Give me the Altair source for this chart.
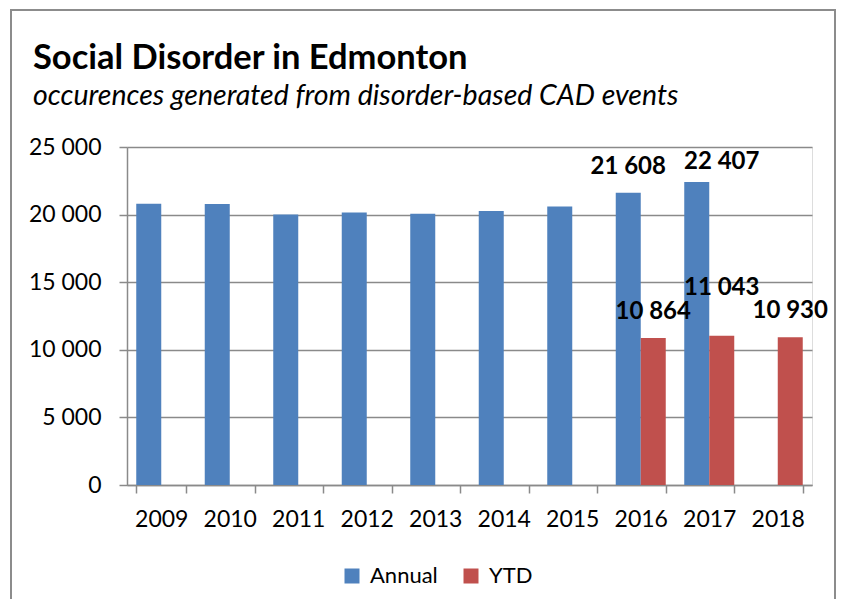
import altair as alt
import pandas as pd

years = ["2009", "2010", "2011", "2012", "2013", "2014", "2015", "2016", "2017", "2018"]
annual = [20810, 20790, 20000, 20150, 20070, 20270, 20590, 21608, 22407, None]
ytd = [None, None, None, None, None, None, None, 10864, 11043, 10930]
series = ["Annual", "YTD"]
colors = ["#4F81BD", "#C0504D"]
y_ticks = [0, 5000, 10000, 15000, 20000, 25000]
label_years = ["2016", "2017", "2018"]

rows = []
for yr, a, t in zip(years, annual, ytd):
    if a is not None:
        rows.append({"year": yr, "series": "Annual", "value": a})
    if t is not None:
        rows.append({"year": yr, "series": "YTD", "value": t})
df = pd.DataFrame(rows)

FONT = "Lato"
GRID = "#8a8a8a"

x_enc = alt.X("year:N", sort=years,
              scale=alt.Scale(domain=years, paddingInner=0.27, paddingOuter=0.135),
              axis=alt.Axis(title=None, labelAngle=0, tickBand="extent", labelFontSize=23,
                            labelPadding=15, tickSize=8, domainColor=GRID, tickColor=GRID,
                            domainWidth=1.5, tickWidth=1.5, labelColor="black", labelFont=FONT))
y_enc = alt.Y("value:Q",
              scale=alt.Scale(domain=[0, 25000], nice=False),
              axis=alt.Axis(title=None, values=y_ticks, grid=True, gridColor=GRID, gridWidth=1.5,
                            domainColor=GRID, tickColor=GRID, domainWidth=1.5, tickWidth=1.5,
                            tickSize=8, labelPadding=18, labelFontSize=23, labelColor="black",
                            labelFont=FONT,
                            labelExpr="replace(format(datum.value, ','), ',', ' ')"))
xo_enc = alt.XOffset("series:N", scale=alt.Scale(domain=series))

base = alt.Chart(df)

bars = base.mark_bar().encode(
    x=x_enc, y=y_enc, xOffset=xo_enc,
    color=alt.Color("series:N", scale=alt.Scale(domain=series, range=colors),
                    legend=alt.Legend(title=None, orient="none", direction="horizontal",
                                      legendX=214, legendY=418, symbolType="square",
                                      symbolSize=225, symbolStrokeWidth=0, labelFontSize=22,
                                      labelFont=FONT, labelColor="black", labelOffset=7,
                                      columnPadding=22, padding=0)),
)

lab = base.transform_filter(
    alt.FieldOneOfPredicate(field="year", oneOf=label_years)
).transform_calculate(
    txt="replace(format(datum.value, ','), ',', ' ')"
)

text_kw = dict(font=FONT, fontSize=24, fontWeight="bold", color="black",
               baseline="alphabetic", align="center")
enc = dict(x=alt.X("year:N", sort=years), y="value:Q", xOffset=alt.XOffset("series:N"), text="txt:N")

labels_main = lab.transform_filter("datum.year != '2017'").mark_text(dy=-19, **text_kw).encode(**enc)
labels_17a = lab.transform_filter("datum.year == '2017' && datum.series == 'Annual'").mark_text(
    dy=-13, dx=25, **text_kw).encode(**enc)
labels_17y = lab.transform_filter("datum.year == '2017' && datum.series == 'YTD'").mark_text(
    dy=-41, **text_kw).encode(**enc)

frame = alt.Chart(alt.Data(values=[{"f": 1}])).mark_rect(
    fillOpacity=0, stroke="#8c8c8c", strokeWidth=2
).encode(x=alt.value(-116), x2=alt.value(708), y=alt.value(-137), y2=alt.value(520))

chart = alt.layer(frame, bars, labels_main, labels_17a, labels_17y).properties(
    width=685, height=338,
    autosize=alt.AutoSizeParams(type="none"),
    padding={"left": 119, "top": 139, "right": 24, "bottom": 114},
    title=alt.TitleParams(
        text="Social Disorder in Edmonton",
        subtitle="occurences generated from disorder-based CAD events",
        anchor="start", frame="group", dx=-94, offset=-102,
        font=FONT, fontSize=34.5, fontWeight="bold", color="black",
        subtitleFont=FONT, subtitleFontSize=28.5, subtitleFontStyle="italic",
        subtitleColor="black", subtitlePadding=5,
    ),
).configure_view(stroke=None).configure(background="white")

chart.save("out.html", embed_options={"renderer": "svg", "actions": False})
